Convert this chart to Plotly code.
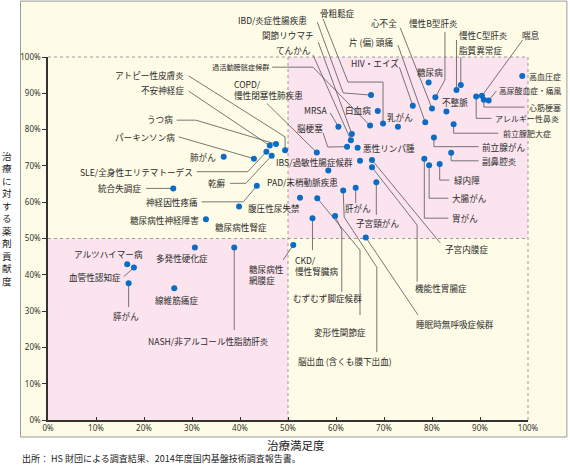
import plotly.graph_objects as go

# ---------------- data ----------------
names = [
    "高血圧症", "高尿酸血症・痛風", "心筋梗塞", "喘息", "アレルギー性鼻炎",
    "慢性C型肝炎", "脂質異常症", "糖尿病", "慢性B型肝炎", "心不全",
    "不整脈", "HIV・エイズ", "片 (偏) 頭痛", "前立腺肥大症", "前立腺がん",
    "副鼻腔炎", "緑内障", "大腸がん", "胃がん", "IBD/炎症性腸疾患",
    "骨粗鬆症", "白血病", "乳がん", "過活動膀胱症候群", "関節リウマチ",
    "てんかん", "MRSA", "脳梗塞", "悪性リンパ腫", "IBS/過敏性腸症候群",
    "子宮内膜症", "機能性胃腸症", "PAD/末梢動脈疾患", "肝がん", "子宮頸がん",
    "脳出血 (含くも膜下出血)", "変形性関節症", "腹圧性尿失禁", "むずむず脚症候群", "CKD/慢性腎臓病",
    "睡眠時無呼吸症候群", "糖尿病性網膜症", "COPD/慢性閉塞性肺疾患", "アトピー性皮膚炎", "不安神経症",
    "うつ病", "パーキンソン病", "SLE/全身性エリテマトーデス", "乾癬", "肺がん",
    "統合失調症", "神経因性疼痛", "糖尿病性腎症", "糖尿病性神経障害", "多発性硬化症",
    "NASH/非アルコール性脂肪肝炎", "アルツハイマー病", "血管性認知症", "膵がん", "線維筋痛症",
]
satisfaction = [
    98.8, 91.8, 90.8, 90.4, 89.2,
    85.1, 86.0, 79.3, 80.7, 80.0,
    83.0, 76.0, 78.6, 84.5, 80.4,
    84.0, 81.6, 79.4, 78.4, 67.3,
    69.8, 68.7, 72.9, 67.1, 63.3,
    63.1, 60.5, 62.3, 64.5, 65.0,
    67.5, 67.5, 58.4, 64.1, 68.4,
    61.5, 56.1, 52.5, 59.8, 55.1,
    66.2, 51.1, 56.0, 49.4, 46.2,
    47.5, 42.9, 45.5, 46.6, 36.6,
    26.1, 43.5, 39.8, 32.9, 30.6,
    38.8, 16.5, 17.9, 16.8, 26.3,
]
contribution = [
    94.8, 88.0, 88.2, 89.3, 89.1,
    90.9, 92.3, 93.0, 88.9, 85.8,
    85.0, 86.6, 82.0, 81.5, 77.8,
    73.6, 70.5, 70.2, 72.0, 89.5,
    81.7, 85.1, 80.8, 81.1, 78.8,
    77.1, 80.8, 75.3, 75.0, 71.4,
    71.6, 69.6, 68.7, 64.0, 65.5,
    63.2, 61.1, 61.2, 56.2, 55.6,
    50.3, 48.2, 73.7, 74.3, 75.6,
    76.0, 72.0, 73.9, 72.8, 72.5,
    63.8, 64.5, 58.8, 55.3, 47.5,
    47.5, 42.9, 42.0, 37.7, 36.3,
]
tick_values = [0, 10, 20, 30, 40, 50, 60, 70, 80, 90, 100]
tick_labels = [f"{v}%" for v in tick_values]

x_title = "治療満足度"
y_title = "治療に対する薬剤貢献度"
source = "出所： HS 財団による調査結果、2014年度国内基盤技術調査報告書。"

# ------------- label placement (layout only) -------------
# name: (label x, label y, anchor, leader-line elbow points) in axis units
LABELS = {
    "高血圧症": (99.7, 94.5, "left", []),
    "高尿酸血症・痛風": (93.6, 90.9, "left", [(93.4, 90.6)]),
    "心筋梗塞": (99.7, 86.2, "left", [(99.3, 86.2), (90.8, 86.2)]),
    "喘息": (100.7, 106.1, "center", [(98.9, 104.7)]),
    "アレルギー性鼻炎": (92.8, 83.1, "left", [(92.4, 83.1), (89.2, 83.1)]),
    "慢性C型肝炎": (90.7, 106.1, "center", [(85.1, 104.7)]),
    "脂質異常症": (90.1, 101.9, "center", [(86.0, 99.9)]),
    "糖尿病": (79.5, 95.9, "center", []),
    "慢性B型肝炎": (80.4, 109.4, "center", [(82.7, 106.9), (82.7, 93.7)]),
    "心不全": (70.0, 109.4, "center", [(73.4, 108.0)]),
    "不整脈": (84.8, 87.6, "center", []),
    "HIV・エイズ": (68.1, 98.3, "center", [(73.2, 97.2)]),
    "片 (偏) 頭痛": (67.3, 104.1, "center", [(72.9, 103.3)]),
    "前立腺肥大症": (94.3, 79.0, "left", [(93.8, 79.0), (84.5, 79.0)]),
    "前立腺がん": (90.1, 75.3, "left", [(89.7, 75.3), (80.4, 75.3)]),
    "副鼻腔炎": (90.1, 71.4, "left", [(89.7, 71.4), (84.0, 71.4)]),
    "緑内障": (84.2, 66.1, "left", [(83.6, 66.1), (81.6, 66.1)]),
    "大腸がん": (83.8, 61.1, "left", [(83.4, 61.1), (79.4, 61.1)]),
    "胃がん": (83.8, 55.6, "left", [(83.4, 55.6), (78.4, 55.6)]),
    "IBD/炎症性腸疾患": (46.8, 110.2, "center", [(56.1, 109.6), (61.5, 90.1)]),
    "骨粗鬆症": (60.3, 112.1, "center", [(57.3, 110.5), (62.5, 93.1), (69.8, 93.1)]),
    "白血病": (67.7, 85.4, "right", []),
    "乳がん": (70.3, 83.5, "left", []),
    "過活動膀胱症候群": (40.3, 97.2, "center", [(46.7, 97.2), (55.2, 97.2)]),
    "関節リウマチ": (50.0, 106.1, "center", [(56.3, 104.1)]),
    "てんかん": (51.1, 101.9, "center", [(55.2, 100.6)]),
    "MRSA": (55.7, 85.4, "center", [(58.8, 84.6)]),
    "脳梗塞": (54.6, 80.4, "center", [(57.3, 79.1), (58.3, 75.2)]),
    "悪性リンパ腫": (65.2, 74.9, "left", []),
    "IBS/過敏性腸症候群": (64.0, 71.1, "right", []),
    "子宮内膜症": (82.2, 47.1, "left", [(81.7, 48.8)]),
    "機能性胃腸症": (81.9, 36.3, "center", [(76.9, 38.1), (76.9, 53.7)]),
    "PAD/末梢動脈疾患": (53.0, 65.6, "center", []),
    "肝がん": (64.6, 58.3, "center", [(64.1, 59.8)]),
    "子宮頸がん": (68.6, 54.4, "center", [(68.4, 56.5)]),
    "脳出血 (含くも膜下出血)": (61.8, 16.3, "center", [(68.5, 18.7), (68.5, 42.1), (61.7, 55.9)]),
    "変形性関節症": (60.9, 24.2, "center", [(65.0, 28.9), (65.0, 46.8)]),
    "腹圧性尿失禁": (47.1, 58.4, "center", []),
    "むずむず脚症候群": (58.2, 33.7, "center", [(61.2, 35.3), (61.2, 52.3)]),
    "CKD/慢性腎臓病": (51.0, 42.6, "left", [(55.1, 46.8)]),
    "睡眠時無呼吸症候群": (84.7, 26.4, "center", [(77.1, 28.9)]),
    "糖尿病性網膜症": (41.4, 40.2, "left", [(49.0, 44.1)]),
    "COPD/慢性閉塞性肺疾患": (38.3, 91.0, "left", [(45.6, 87.2)]),
    "アトピー性皮膚炎": (28.7, 95.0, "right", [(29.3, 94.8), (49.4, 78.0)]),
    "不安神経症": (28.7, 90.9, "right", [(29.3, 90.6)]),
    "うつ病": (26.4, 82.8, "right", [(26.8, 82.6), (30.8, 82.6)]),
    "パーキンソン病": (26.8, 78.0, "right", [(27.2, 78.0)]),
    "SLE/全身性エリテマトーデス": (30.6, 68.4, "right", [(31.0, 68.4), (41.6, 68.4)]),
    "乾癬": (37.5, 65.2, "right", [(37.9, 65.2), (41.2, 65.2)]),
    "肺がん": (35.4, 72.5, "right", []),
    "統合失調症": (19.7, 63.8, "right", [(20.4, 63.8)]),
    "神経因性疼痛": (31.6, 60.1, "right", [(32.0, 60.1), (40.7, 60.1)]),
    "糖尿病性腎症": (40.2, 53.2, "center", []),
    "糖尿病性神経障害": (31.8, 55.1, "right", []),
    "多発性硬化症": (28.0, 44.5, "center", []),
    "NASH/非アルコール性脂肪肝炎": (33.4, 21.8, "center", [(38.8, 24.8)]),
    "アルツハイマー病": (12.6, 45.6, "center", []),
    "血管性認知症": (15.6, 39.3, "right", [(15.8, 39.5)]),
    "膵がん": (16.3, 28.7, "center", [(16.8, 31.1)]),
    "線維筋痛症": (26.7, 33.1, "center", []),
}
WRAP = {
    "COPD/慢性閉塞性肺疾患": "COPD/<br>慢性閉塞性肺疾患",
    "CKD/慢性腎臓病": "CKD/<br>慢性腎臓病",
    "糖尿病性網膜症": "糖尿病性<br>網膜症",
}
FONT_SIZE = {"過活動膀胱症候群": 7.2, "高尿酸血症・痛風": 7.8, "アレルギー性鼻炎": 8,
             "心筋梗塞": 8, "高血圧症": 8, "前立腺肥大症": 8}

FONT = "Noto Sans CJK JP"
CREAM = "#FEFCE6"
PINK = "#FBE4EE"
BLUE = "#0A6CC4"
TEXT = "#2b2b2b"
XR = (0, 100)
YR = (0, 100)


def px(v):  # axis units -> paper fraction (x domain is [0,1])
    return (v - XR[0]) / (XR[1] - XR[0])


def py(v):
    return (v - YR[0]) / (YR[1] - YR[0])


shapes = [
    dict(type="rect", xref="paper", yref="paper", x0=-0.0573, x1=1.081,
         y0=-0.0468, y1=1.154, fillcolor=CREAM,
         line=dict(color="#9a9a9a", width=1), layer="below"),
    dict(type="rect", xref="paper", yref="paper", x0=px(50), x1=px(100),
         y0=py(50), y1=py(100), fillcolor=PINK, line=dict(width=0), layer="below"),
    dict(type="rect", xref="paper", yref="paper", x0=px(0), x1=px(50),
         y0=py(0), y1=py(50), fillcolor=PINK, line=dict(width=0), layer="below"),
]
for (a, b, c, d) in [(0, 100, 100, 100), (100, 0, 100, 100),
                     (50, 0, 50, 100), (0, 50, 100, 50)]:
    shapes.append(dict(type="line", xref="paper", yref="paper",
                       x0=px(a), y0=py(b), x1=px(c), y1=py(d),
                       line=dict(color="#9c9c9c", width=1, dash="dot"),
                       layer="below"))

annotations = []
for name, xv, yv in zip(names, satisfaction, contribution):
    lx, ly, anc, elbows = LABELS[name]
    if elbows:
        pts = list(elbows) + [(xv, yv)]
        d = "M {:.4f} {:.4f}".format(px(pts[0][0]), py(pts[0][1]))
        for (p, q) in pts[1:]:
            d += " L {:.4f} {:.4f}".format(px(p), py(q))
        shapes.append(dict(type="path", xref="paper", yref="paper", path=d,
                           line=dict(color="#555555", width=0.8), layer="below"))
    annotations.append(dict(
        x=px(lx), y=py(ly), xref="paper", yref="paper", text=WRAP.get(name, name),
        showarrow=False, xanchor=anc, yanchor="middle",
        align="left" if name in WRAP else "center",
        font=dict(family=FONT, size=FONT_SIZE.get(name, 8.6), color=TEXT)))

# vertical (stacked) y-axis title
annotations.append(dict(
    x=-0.0854, y=(420 - 219) / 363, xref="paper", yref="paper",
    text="<br>".join(list(y_title)), showarrow=False,
    xanchor="center", yanchor="middle", align="center",
    font=dict(family=FONT, size=9.6, color="#222")))
annotations.append(dict(
    x=0.517, y=-0.069, xref="paper", yref="paper", text=x_title,
    showarrow=False, xanchor="center", yanchor="middle",
    font=dict(family=FONT, size=11.5, color="#222")))
annotations.append(dict(
    x=-0.058, y=-0.105, xref="paper", yref="paper", text=source,
    showarrow=False, xanchor="left", yanchor="middle",
    font=dict(family=FONT, size=9, color="#222")))

fig = go.Figure()
fig.add_trace(go.Scatter(
    x=satisfaction, y=contribution, mode="markers", text=names,
    hovertemplate="%{text}<br>満足度 %{x}%<br>貢献度 %{y}%<extra></extra>",
    marker=dict(color=BLUE, size=6), cliponaxis=False, showlegend=False))

axis_common = dict(range=list(XR), showgrid=False, zeroline=False,
                   showline=True, linecolor="#333333", linewidth=1.5,
                   tickvals=tick_values, ticktext=tick_labels,
                   tickcolor="#333333", tickwidth=1,
                   tickfont=dict(family="Noto Sans", size=8, color="#333"))
fig.update_layout(
    width=570, height=472,
    margin=dict(l=48, r=42, t=57, b=52),
    paper_bgcolor="white", plot_bgcolor="rgba(0,0,0,0)",
    xaxis=dict(axis_common, ticks="inside", ticklen=3),
    yaxis=dict(axis_common, range=list(YR), ticks="outside", ticklen=4),
    shapes=shapes, annotations=annotations, showlegend=False,
)
# remove the page's default body margin so the figure sits at the window origin
fig.write_html("out.html", config={"displayModeBar": False},
               post_script="document.body.style.margin='0';document.body.style.overflow='hidden';")
